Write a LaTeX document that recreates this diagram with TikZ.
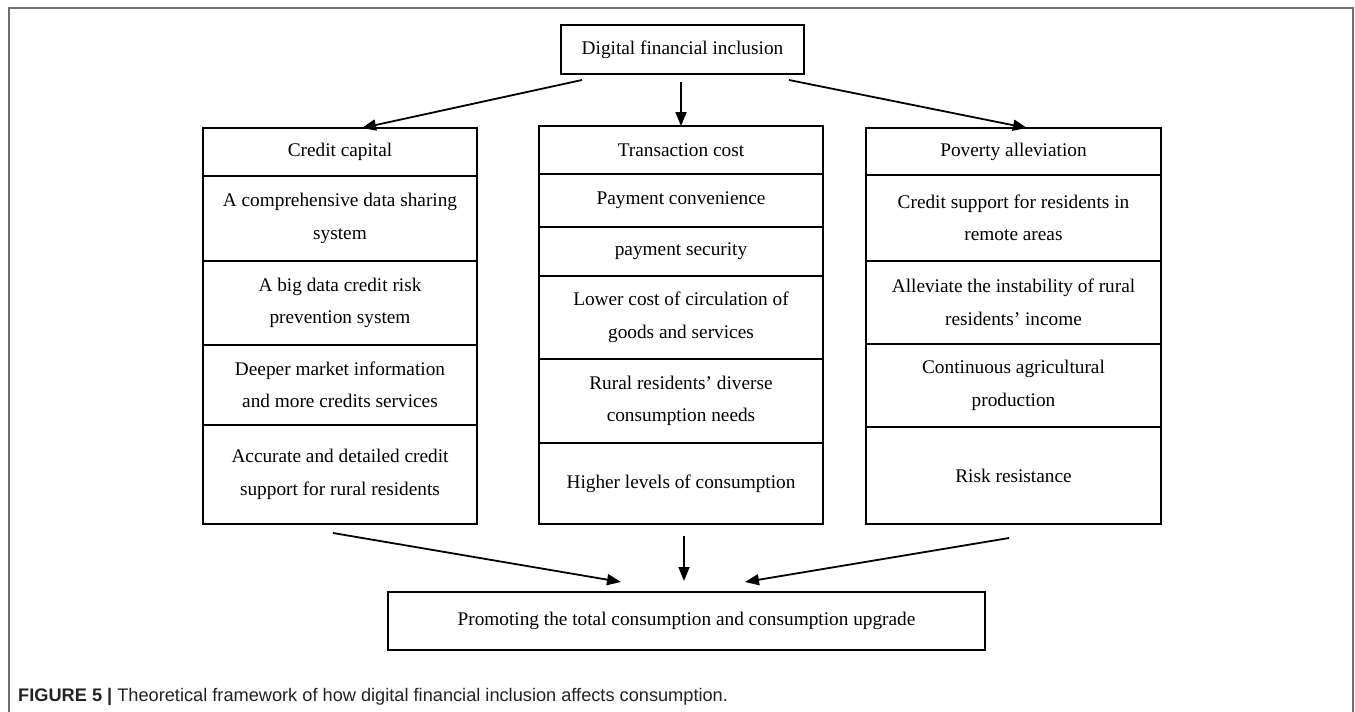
\documentclass[tikz,border=0pt]{standalone}
\usepackage{fontspec}
\setmainfont{Liberation Serif}
\newfontfamily\capfont{Liberation Sans}
\usetikzlibrary{arrows.meta,calc}
\newcommand\bxfont{\fontsize{19.3}{32.5}\selectfont}
\definecolor{framegray}{HTML}{6E6E6E}
\definecolor{captext}{HTML}{222222}
\begin{document}
\begin{tikzpicture}[x=1pt,y=-1pt,
  cell/.style={draw, line width=1.6pt, inner sep=0pt, outer sep=0pt, align=center, font=\bxfont},
  thickcell/.style={cell, line width=2.6pt},
  arr/.style={line width=1.8pt, -{Triangle[length=14pt,width=11pt]}}]
\useasboundingbox (0,0) rectangle (1355,712);
% outer frame
\draw[framegray, line width=2pt] (9,712) -- (9,8) -- (1353,8) -- (1353,712);
% top box
\node[cell, minimum width=243pt, minimum height=49pt] (top) at (682.5,49.5) {Digital financial inclusion};
% left column
\node[cell, minimum width=274pt, minimum height=48pt] (l0) at (340,152) {Credit capital};
\node[cell, minimum width=274pt, minimum height=85pt] (l1) at (340,218.5) {A comprehensive data sharing\\system};
\node[cell, minimum width=274pt, minimum height=84pt] (l2) at (340,303) {A big data credit risk\\prevention system};
\node[cell, minimum width=274pt, minimum height=80pt] (l3) at (340,385) {Deeper market information\\and more credits services};
\node[thickcell, minimum width=274pt, minimum height=99pt] (l4) at (340,474.5) {Accurate and detailed credit\\support for rural residents};
% middle column
\node[cell, minimum width=284pt, minimum height=48pt] (m0) at (681,150) {Transaction cost};
\node[cell, minimum width=284pt, minimum height=53pt] (m1) at (681,200.5) {Payment convenience};
\node[cell, minimum width=284pt, minimum height=49pt] (m2) at (681,251.5) {payment security};
\node[cell, minimum width=284pt, minimum height=83pt] (m3) at (681,317.5) {Lower cost of circulation of\\goods and services};
\node[cell, minimum width=284pt, minimum height=84pt] (m4) at (681,401) {Rural residents’ diverse\\consumption needs};
\node[cell, minimum width=284pt, minimum height=81pt] (m5) at (681,483.5) {Higher levels of consumption};
% right column
\node[cell, minimum width=295pt, minimum height=47pt] (r0) at (1013.5,151.5) {Poverty alleviation};
\node[cell, minimum width=295pt, minimum height=86pt] (r1) at (1013.5,218) {Credit support for residents in\\remote areas};
\node[cell, minimum width=295pt, minimum height=83pt] (r3) at (1013.5,385.5) {Continuous agricultural\\production};
\node[cell, minimum width=295pt, minimum height=97pt] (r4) at (1013.5,475.5) {Risk resistance};
\node[thickcell, minimum width=295pt, minimum height=83pt] (r2) at (1013.5,302.5) {Alleviate the instability of rural\\residents’ income};
% bottom box
\node[cell, minimum width=597pt, minimum height=58pt] (bot) at (686.5,621) {Promoting the total consumption and consumption upgrade};
% arrows from top
\draw[arr] ($(top.south west)+(21,6)$) -- ($(l0.north)+(22,0)$);
\draw[arr] ($(top.south)+(-1.5,8)$) -- (m0.north);
\draw[arr] ($(top.south east)+(-15,6)$) -- ($(r0.north)+(13.5,0)$);
% arrows to bottom
\draw[arr] ($(l4.south)+(-7,9)$) -- ($(bot.north west)+(233,-10)$);
\draw[arr] ($(m5.south)+(3,12)$) -- ($(bot.north)+(-2.5,-11)$);
\draw[arr] ($(r4.south)+(-4.5,14)$) -- ($(bot.north)+(58.5,-10)$);
% caption
\node[anchor=west, inner sep=0pt, text=captext, font=\capfont\fontsize{18.2}{21}\selectfont] (cap) at (18,697) {\textbf{FIGURE 5 |} Theoretical framework of how digital financial inclusion affects consumption.};
\end{tikzpicture}
\end{document}
